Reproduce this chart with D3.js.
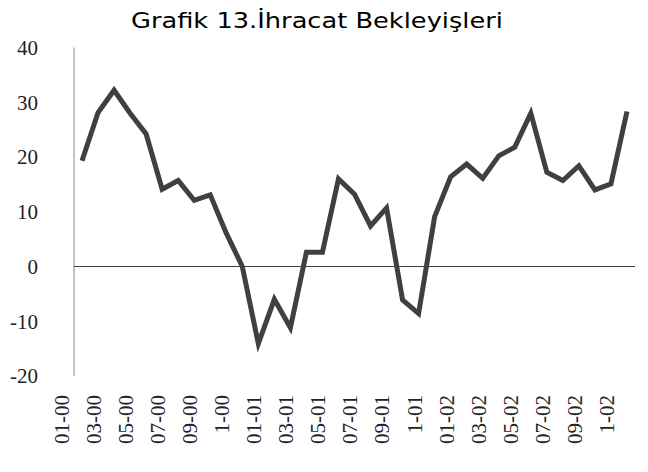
<!DOCTYPE html>
<html>
<head>
<meta charset="utf-8">
<script src="https://cdn.jsdelivr.net/npm/d3@7"></script>
<style>
  body { margin: 0; background: #fff; }
  .lbl { font-family: "Times New Roman", "Liberation Serif", "DejaVu Serif", serif; font-size: 21px; fill: #222; }
</style>
</head>
<body>
<svg width="648" height="472"></svg>
<script>
var svg = d3.select("svg");

// monthly values, 01-00 .. 11-02
var values = [19.3, 28.1, 32.2, 28.0, 24.2, 14.1, 15.7, 12.1, 13.1, 6.1,
    0, -14.1, -6.0, -11.2, 2.6, 2.6, 16.0, 13.2, 7.4, 10.7,
    -6.1, -8.6, 9.1, 16.4, 18.7, 16.1, 20.2, 21.8, 28.0, 17.2,
    15.7, 18.4, 14.0, 15.1, 28.3];

// every second month gets a label
var tickLabels = ["01-00", "03-00", "05-00", "07-00", "09-00", "1-00",
    "01-01", "03-01", "05-01", "07-01", "09-01", "1-01",
    "01-02", "03-02", "05-02", "07-02", "09-02", "1-02"];

var yTicks = [-20, -10, 0, 10, 20, 30, 40];

var x = d3.scaleBand()
    .domain(d3.range(values.length))
    .range([74, 635]);

var y = d3.scaleLinear()
    .domain([-20, 40])
    .range([376, 47.5]);

function cx(i) {
    return x(i) + x.bandwidth() / 2;
}

// title
svg.append("text")
    .attr("x", 317)
    .attr("y", 28)
    .attr("text-anchor", "middle")
    .style("font-family", "'Comic Sans MS', 'DejaVu Sans', sans-serif")
    .style("font-size", "22px")
    .attr("textLength", 372)
    .attr("lengthAdjust", "spacingAndGlyphs")
    .text("Grafik 13.İhracat Bekleyişleri");

// y axis line
svg.append("line")
    .attr("x1", 74).attr("x2", 74)
    .attr("y1", y(40)).attr("y2", y(-20))
    .style("stroke", "#888")
    .style("stroke-width", 1);

// zero line
svg.append("line")
    .attr("x1", 74).attr("x2", 635)
    .attr("y1", y(0)).attr("y2", y(0))
    .style("stroke", "#404040")
    .style("stroke-width", 1);

svg.append("g").selectAll("text")
    .data(yTicks)
    .enter()
    .append("text")
    .attr("class", "lbl")
    .attr("x", 38)
    .attr("y", function(d){
        return y(d);
    })
    .attr("dy", "0.35em")
    .attr("text-anchor", "end")
    .text(function(d){
        return d;
    });

svg.append("g").selectAll("text")
    .data(tickLabels)
    .enter()
    .append("text")
    .attr("class", "lbl")
    .attr("transform", function(d, i){
        return "translate(" + (cx(i * 2) - 20.5) + ",395) rotate(-90)";
    })
    .attr("dy", "0.35em")
    .attr("text-anchor", "end")
    .text(function(d){
        return d;
    });

var line = d3.line()
    .x(function(d, i){
        return cx(i);
    })
    .y(function(d){
        return y(d);
    });

svg.append("path")
    .datum(values)
    .attr("d", line)
    .style("fill", "none")
    .style("stroke", "#404040")
    .style("stroke-width", 5);
</script>
</body>
</html>
